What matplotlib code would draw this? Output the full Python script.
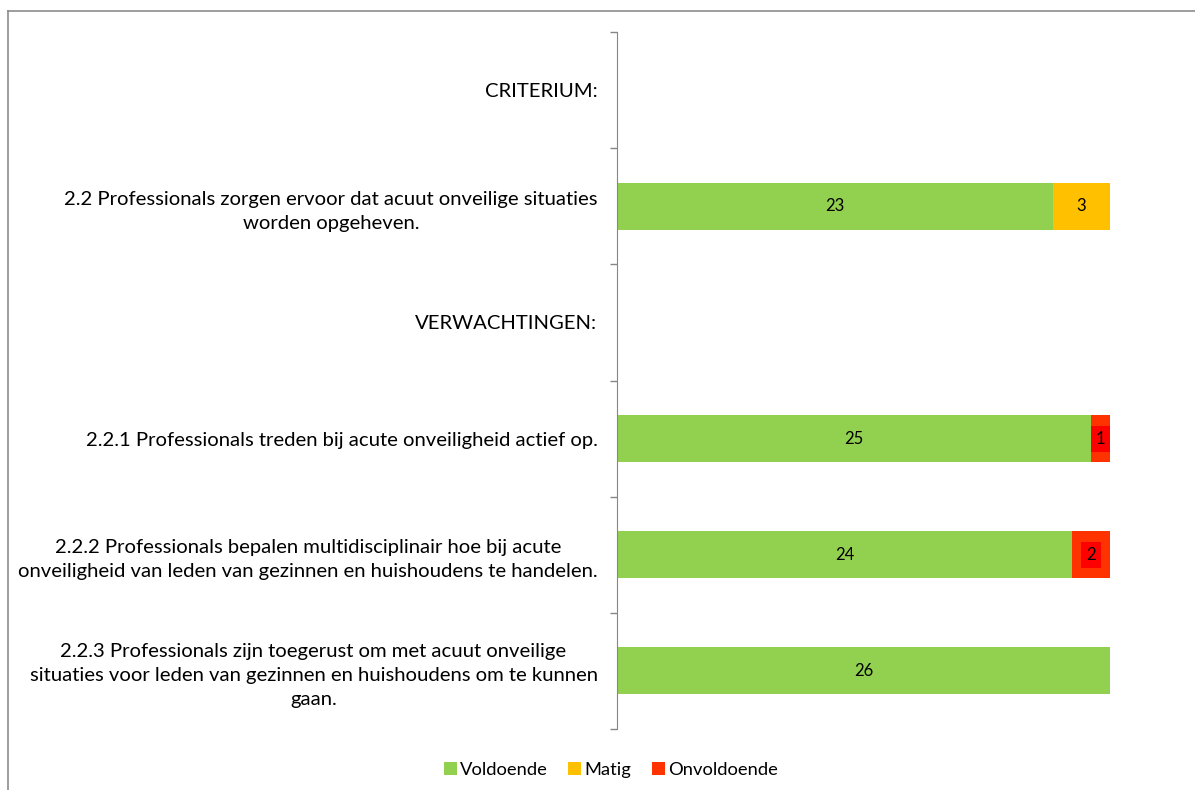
import numpy as np
import matplotlib.pyplot as plt
from matplotlib.lines import Line2D

categories = [
    "CRITERIUM:",
    "2.2 Professionals zorgen ervoor dat acuut onveilige situaties\nworden opgeheven.",
    "VERWACHTINGEN:",
    "2.2.1 Professionals treden bij acute onveiligheid actief op.",
    "2.2.2 Professionals bepalen multidisciplinair hoe bij acute\nonveiligheid van leden van gezinnen en huishoudens te handelen.",
    "2.2.3 Professionals zijn toegerust om met acuut onveilige\nsituaties voor leden van gezinnen en huishoudens om te kunnen\ngaan.",
]
voldoende = [0, 23, 0, 25, 24, 26]
matig = [0, 3, 0, 0, 0, 0]
onvoldoende = [0, 0, 0, 1, 2, 0]
series_names = ["Voldoende", "Matig", "Onvoldoende"]
colors = ["#92D050", "#FFC000", "#FF3300"]

plt.rcParams['font.family'] = ['Lato', 'DejaVu Sans']

fig = plt.figure(figsize=(11.95, 7.9), dpi=100)
ax = fig.add_axes([617 / 1195, 1 - 729 / 790, (1110 - 617) / 1195, (729 - 32) / 790])

y = np.arange(len(categories))
left = np.zeros(len(categories))
for name, vals, col in zip(series_names, [voldoende, matig, onvoldoende], colors):
    vals = np.array(vals)
    bars = ax.barh(y, vals, left=left, height=0.405, color=col, label=name)
    for b, v in zip(bars, vals):
        if v == 0:
            continue
        cx = b.get_x() + b.get_width() / 2
        cy = b.get_y() + b.get_height() / 2
        if name == "Onvoldoende":
            ax.text(cx, cy, str(v), ha='center', va='center', fontsize=12,
                    bbox=dict(boxstyle='square,pad=0.3', fc='#FF0000', ec='none'))
        else:
            ax.text(cx, cy, str(v), ha='center', va='center', fontsize=12)
    left += vals

ax.set_xlim(0, 26)
ax.set_ylim(len(categories) - 0.5, -0.5)
ax.set_yticks(y)
ax.set_yticklabels(categories, fontsize=14.6, multialignment='center', linespacing=1.5)
ax.tick_params(axis='y', which='major', length=0, pad=14)
ax.set_yticks(np.arange(len(categories) + 1) - 0.5, minor=True)
ax.tick_params(axis='y', which='minor', length=5, color='#868686', width=1)
ax.set_xticks([])
for s in ['top', 'right', 'bottom']:
    ax.spines[s].set_visible(False)
ax.spines['left'].set_color('#868686')

fig.legend(loc='center', bbox_to_anchor=(611 / 1195, 1 - 770 / 790), ncol=3,
           frameon=False, fontsize=13.2, handlelength=0.7, handleheight=0.7,
           handletextpad=0.2, columnspacing=1.1)

# chart area border (only left and top edges visible in the crop)
fig.add_artist(Line2D([8 / 1195, 8 / 1195], [1 - 11 / 790, 0], transform=fig.transFigure,
                      color='#8C8C8C', lw=1.2))
fig.add_artist(Line2D([8 / 1195, 1], [1 - 11 / 790, 1 - 11 / 790], transform=fig.transFigure,
                      color='#8C8C8C', lw=1.2))

fig.savefig('out.png', dpi=100)
